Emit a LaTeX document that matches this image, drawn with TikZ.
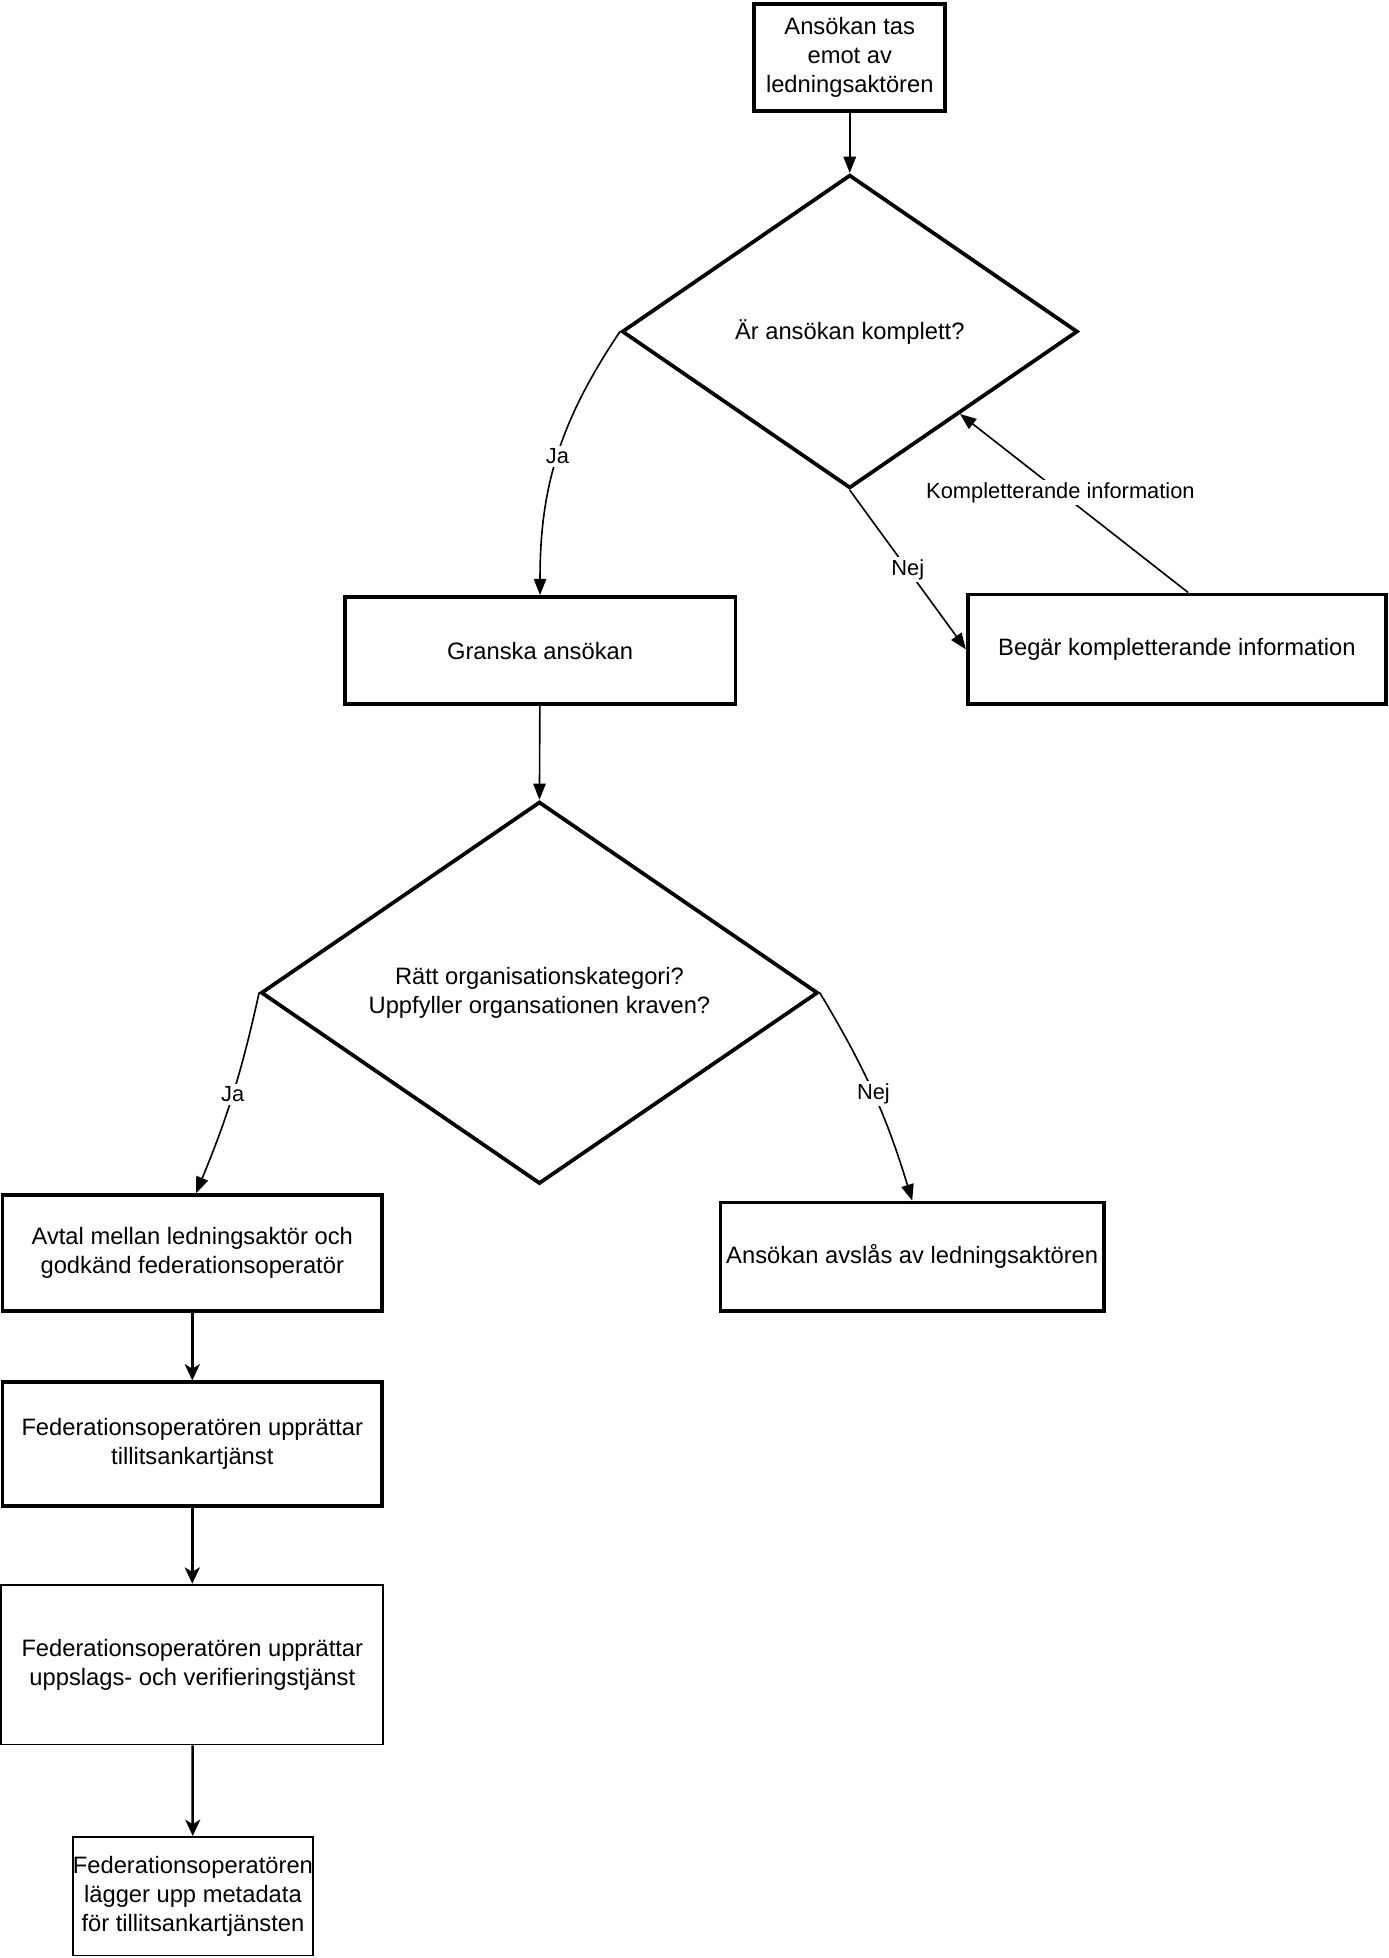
\documentclass[tikz,border=0pt]{standalone}
\usepackage{fontspec}
\setmainfont{Liberation Sans}
\usetikzlibrary{shapes.geometric,arrows.meta,calc}
\newcommand\mynodefont{\fontsize{19}{23.5}\selectfont}
\newcommand\mylblfont{\fontsize{17.5}{21}\selectfont}
\begin{document}
\begin{tikzpicture}[x=1pt,y=-1pt,
  box/.style={draw,line width=3pt,inner sep=0pt,align=center,font=\mynodefont},
  thinbox/.style={draw,line width=1.5pt,inner sep=0pt,align=center,font=\mynodefont},
  dia/.style={draw,diamond,line width=3pt,inner sep=0pt,align=center,font=\mynodefont},
  lbl/.style={fill=white,inner sep=2pt,font=\mylblfont},
  conn/.style={line width=1.3pt,-{Triangle[length=13pt,width=10pt]}},
  flow/.style={line width=2pt,-{Stealth[length=13pt,width=12pt,inset=3.5pt]}}]
\useasboundingbox (0,0) rectangle (1112,1568);

\node[box,minimum width=153pt,minimum height=86pt] (a) at (680.5,46) {Ansökan tas\\emot av\\ledningsaktören};
\node[dia,aspect=1.45,minimum width=365pt,minimum height=251pt] (d1) at (680.5,265.5) {Är ansökan komplett?};
\node[box,minimum width=313pt,minimum height=86pt] (granska) at (432.5,521) {Granska ansökan};
\node[box,minimum width=335pt,minimum height=88pt] (begar) at (942.5,520) {Begär kompletterande information};
\node[dia,aspect=1.46,minimum width=446pt,minimum height=306pt] (d2) at (432,795) {Rätt organisationskategori?\\Uppfyller organsationen kraven?};
\node[box,minimum width=304pt,minimum height=93pt] (avtal) at (154,1003.5) {Avtal mellan ledningsaktör och\\godkänd federationsoperatör};
\node[box,minimum width=307pt,minimum height=87pt] (avslas) at (730.5,1006.5) {Ansökan avslås av ledningsaktören};
\node[box,minimum width=304pt,minimum height=99pt] (fed1) at (154,1156.5) {Federationsoperatören upprättar\\tillitsankartjänst};
\node[thinbox,minimum width=306pt,minimum height=128pt] (fed2) at (154,1333) {Federationsoperatören upprättar\\uppslags- och verifieringstjänst};
\node[thinbox,minimum width=191pt,minimum height=95pt] (fed3) at (154.5,1518.5) {Federationsoperatören\\lägger upp metadata\\för tillitsankartjänsten};

\draw[conn] (a) -- (d1.north);
\draw[conn] (d1.west) to[bend right=17] node[lbl,pos=0.5] {Ja} (granska.north);
\draw[conn] (d1.south) -- node[lbl,pos=0.5] {Nej} (begar.west);
\draw[conn] ([xshift=9pt]begar.north) -- node[lbl,pos=0.56] {Kompletterande information} ($(d1.east)!0.52!(d1.south)$);
\draw[conn] (granska) -- (d2.north);
\draw[conn] (d2.west) to[bend left=5] node[lbl,pos=0.5] {Ja} ([xshift=3pt]avtal.north);
\draw[conn] (d2.east) to[bend left=7] node[lbl,pos=0.5] {Nej} (avslas.north);
\draw[flow] (avtal) -- (fed1);
\draw[flow] (fed1) -- (fed2);
\draw[flow] (fed2) -- (fed3);
\end{tikzpicture}
\end{document}
